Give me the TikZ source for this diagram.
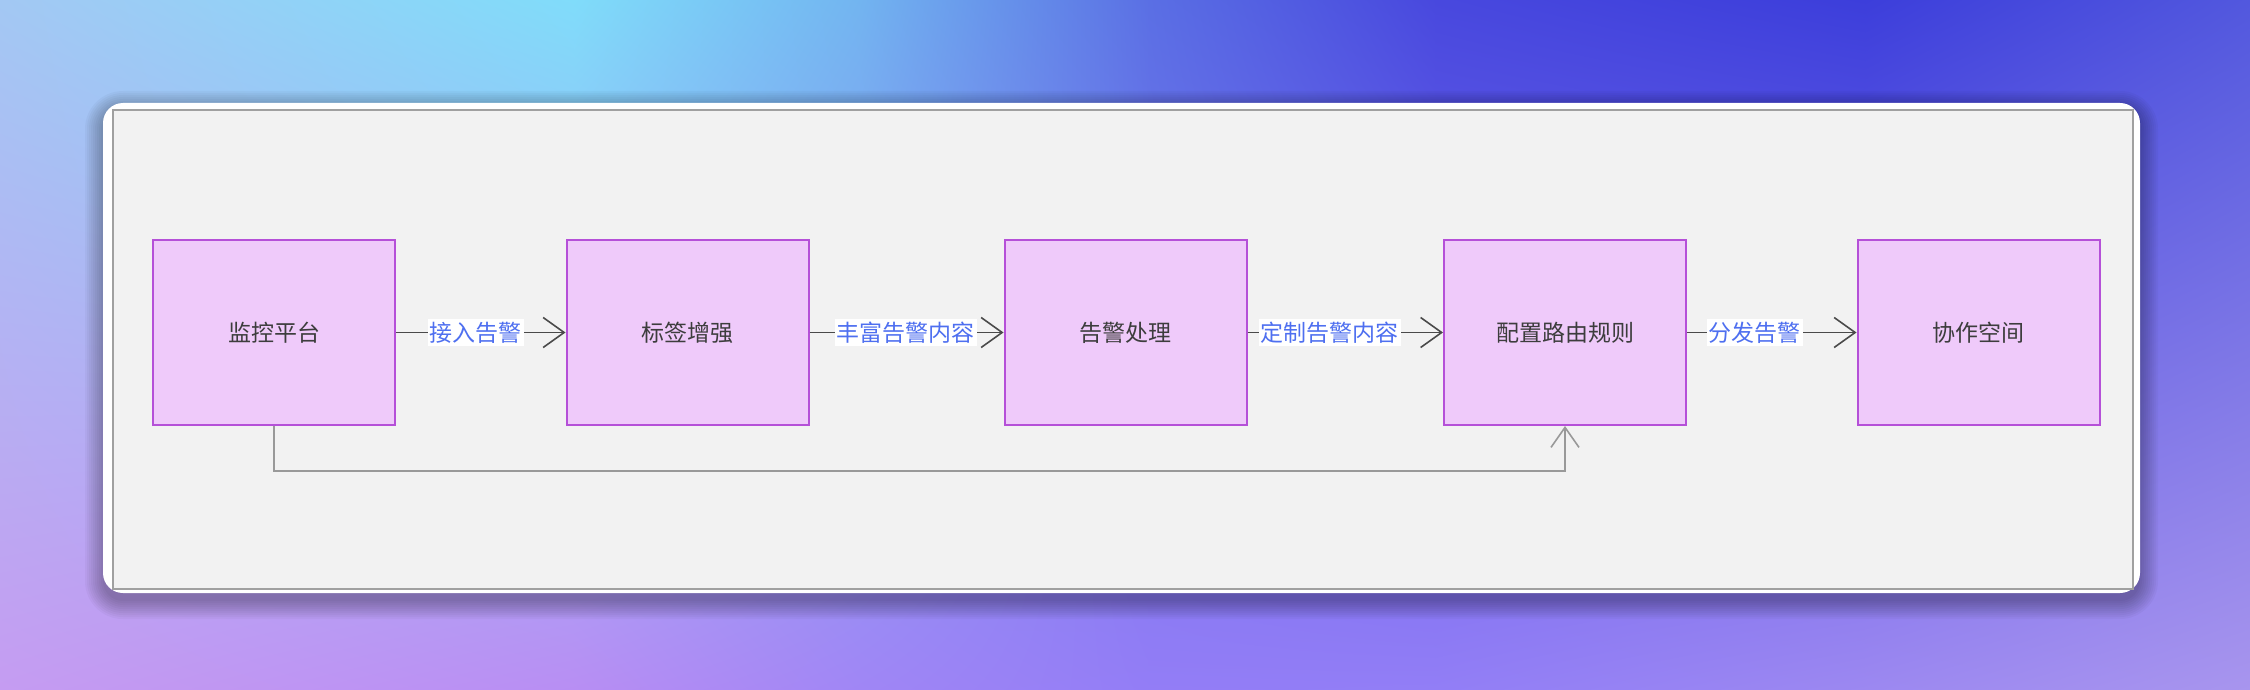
\documentclass[tikz,border=0pt]{standalone}
\usepackage{fontspec}
\newfontfamily\cjk{Noto Sans CJK SC}
\usetikzlibrary{arrows.meta,shadings}
\definecolor{ta}{HTML}{A3C8F3}
\definecolor{tb}{HTML}{80DCFA}
\definecolor{tc}{HTML}{72B4F0}
\definecolor{td}{HTML}{5A6FE4}
\definecolor{te}{HTML}{4848DE}
\definecolor{tf}{HTML}{3C3EDB}
\definecolor{tg}{HTML}{5258DE}
\definecolor{ba}{HTML}{C59CF2}
\definecolor{bb}{HTML}{B88EF3}
\definecolor{bc}{HTML}{A086F5}
\definecolor{bd}{HTML}{937DF6}
\definecolor{be}{HTML}{927EF6}
\definecolor{bf}{HTML}{9C88F1}
\definecolor{bg}{HTML}{A895EE}
\definecolor{panel}{HTML}{F2F2F2}
\definecolor{panelline}{HTML}{A0A0A0}
\definecolor{boxfill}{HTML}{EFCAFA}
\definecolor{boxline}{HTML}{B550D8}
\definecolor{boxtext}{HTML}{3D3D3D}
\definecolor{lbltext}{HTML}{4E6FF0}
\definecolor{flowline}{HTML}{4A4A4A}
\definecolor{loopline}{HTML}{999999}
\begin{document}
\begin{tikzpicture}[x=0.5pt,y=-0.5pt,
  box/.style={draw=boxline, fill=boxfill, line width=1pt, minimum width=121pt,
    minimum height=92.5pt, inner sep=0pt, text=boxtext,
    font=\cjk\fontsize{11.5pt}{14pt}\selectfont},
  lbl/.style={fill=white, text=lbltext, inner xsep=1pt, inner ysep=1.5pt,
    font=\cjk\fontsize{11.5pt}{14pt}\selectfont},
  flow/.style={draw=flowline, line width=0.8pt,
    -{Straight Barb[length=10.5pt,width=15pt,line width=0.8pt]}},
  back/.style={draw=loopline, line width=0.8pt,
    -{Straight Barb[length=10pt,width=14pt,line width=0.8pt]}}]
\useasboundingbox (0,0) rectangle (2250,690);
% background gradient
\shade[upper left=ta, upper right=tb, lower left=ba, lower right=bb] (0,0) rectangle (576,690);
\shade[upper left=tb, upper right=tc, lower left=bb, lower right=bc] (574,0) rectangle (862,690);
\shade[upper left=tc, upper right=td, lower left=bc, lower right=bd] (860,0) rectangle (1150,690);
\shade[upper left=td, upper right=te, lower left=bd, lower right=be] (1148,0) rectangle (1437,690);
\shade[upper left=te, upper right=tf, lower left=be, lower right=bf] (1435,0) rectangle (1867,690);
\shade[upper left=tf, upper right=tg, lower left=bf, lower right=bg] (1865,0) rectangle (2250,690);
% card shadow
\foreach \i in {0,...,9}{
  \fill[black, opacity=0.03, rounded corners={10pt+\i pt}]
    ({103-2*\i},{109-2*\i}) rectangle ({2140+2*\i},{601+2*\i});
}
% card
\fill[white, rounded corners=10pt] (103,103) rectangle (2140,593);
\filldraw[fill=panel, draw=panelline, line width=0.75pt] (113,110) rectangle (2133,589);
% nodes
\node[box] (b1) at (274,332.5) {监控平台};
\node[box] (b2) at (687.5,332.5) {标签增强};
\node[box] (b3) at (1125.5,332.5) {告警处理};
\node[box] (b4) at (1565,332.5) {配置路由规则};
\node[box] (b5) at (1978.5,332.5) {协作空间};
% connectors
\draw[flow] (b1) -- node[lbl, pos=0.47] {接入告警} (b2);
\draw[flow] (b2) -- node[lbl, pos=0.495] {丰富告警内容} (b3);
\draw[flow] (b3) -- node[lbl, pos=0.42] {定制告警内容} (b4);
\draw[flow] (b4) -- node[lbl, pos=0.40] {分发告警} (b5);
\coordinate (lowleft) at (274,471);
\draw[back] (b1.south) -- (lowleft) -| (b4.south);
\end{tikzpicture}
\end{document}
